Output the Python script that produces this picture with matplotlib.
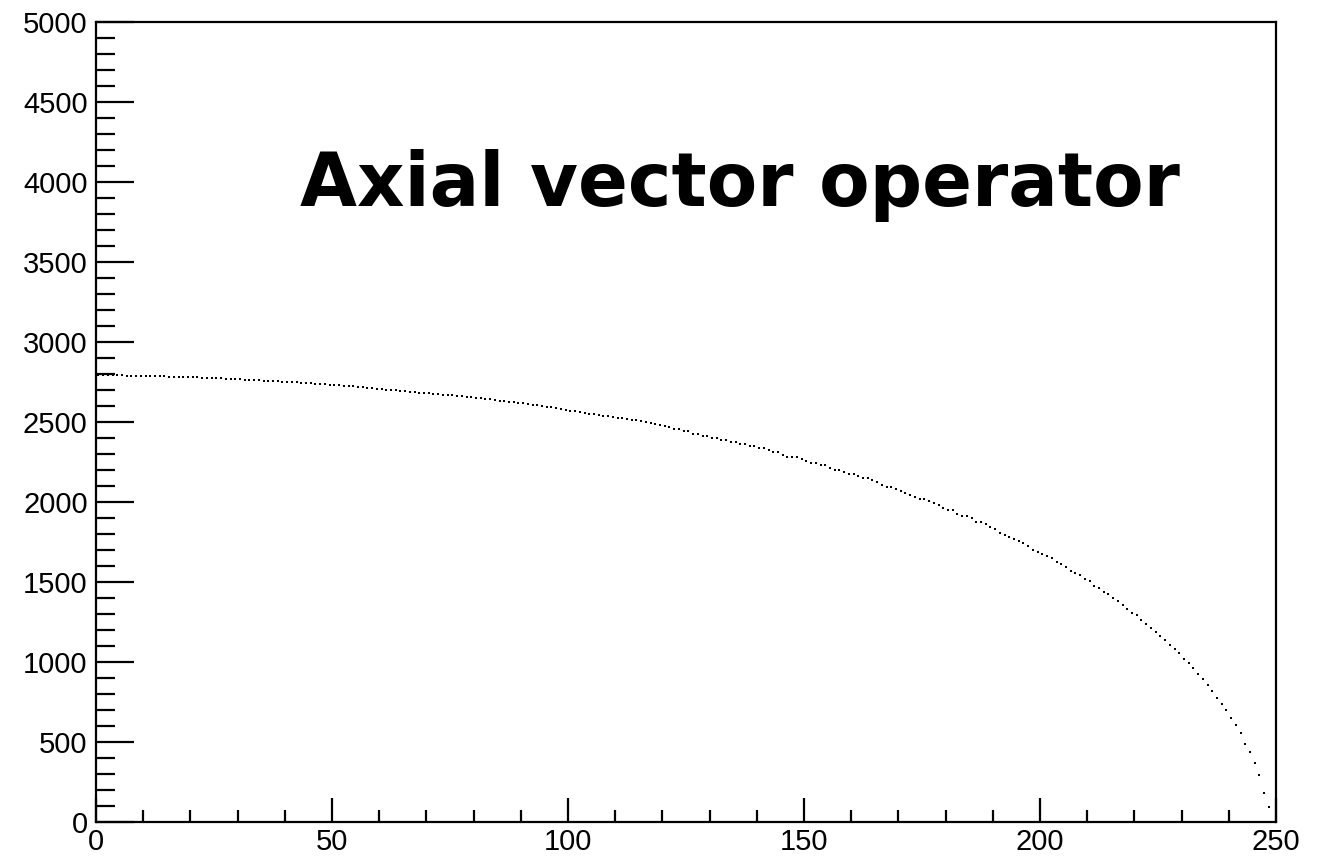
import numpy as np
import matplotlib
matplotlib.use("Agg")
import matplotlib.pyplot as plt
from matplotlib.ticker import MultipleLocator

# histogram: 250 bins from 0 to 250
nbins, xlow, xhigh = 250, 0, 250
counts = [
    2794, 2793, 2792, 2792, 2791, 2791, 2790, 2790, 2789, 2789,
    2788, 2787, 2787, 2786, 2785, 2784, 2783, 2783, 2782, 2781,
    2780, 2779, 2778, 2777, 2776, 2775, 2773, 2771, 2769, 2768,
    2766, 2765, 2763, 2762, 2760, 2759, 2758, 2756, 2755, 2753,
    2752, 2750, 2748, 2746, 2744, 2742, 2740, 2738, 2736, 2734,
    2732, 2730, 2728, 2726, 2723, 2720, 2717, 2715, 2712, 2709,
    2706, 2703, 2700, 2698, 2695, 2692, 2690, 2687, 2684, 2681,
    2679, 2676, 2674, 2671, 2669, 2666, 2664, 2661, 2659, 2656,
    2652, 2649, 2645, 2641, 2638, 2634, 2631, 2627, 2623, 2619,
    2616, 2612, 2608, 2604, 2600, 2596, 2591, 2586, 2581, 2576,
    2571, 2566, 2561, 2556, 2552, 2548, 2544, 2540, 2536, 2532,
    2528, 2524, 2520, 2515, 2511, 2505, 2499, 2493, 2487, 2481,
    2475, 2467, 2454, 2454, 2442, 2442, 2427, 2427, 2414, 2414,
    2400, 2400, 2387, 2387, 2375, 2375, 2362, 2362, 2350, 2350,
    2336, 2336, 2323, 2311, 2311, 2296, 2281, 2281, 2281, 2269,
    2254, 2242, 2242, 2229, 2229, 2214, 2202, 2202, 2189, 2177,
    2177, 2162, 2150, 2150, 2136, 2123, 2108, 2096, 2096, 2083,
    2069, 2056, 2044, 2029, 2017, 2017, 2006, 1992, 1979, 1964,
    1952, 1952, 1927, 1912, 1912, 1898, 1873, 1873, 1860, 1846,
    1831, 1806, 1794, 1781, 1767, 1754, 1742, 1727, 1702, 1687,
    1675, 1662, 1648, 1623, 1610, 1596, 1571, 1556, 1542, 1517,
    1504, 1477, 1464, 1439, 1425, 1398, 1383, 1358, 1331, 1304,
    1292, 1264, 1238, 1212, 1187, 1162, 1135, 1108, 1079, 1054,
    1017, 992, 962, 925, 896, 856, 819, 777, 737, 700,
    648, 606, 554, 487, 435, 367, 292, 183, 92, 0,
]
title = "Axial vector operator"

edges = np.linspace(xlow, xhigh, nbins + 1)
centers = 0.5 * (edges[:-1] + edges[1:])

fig = plt.figure(figsize=(13.17, 8.58), dpi=100)
ax = fig.add_axes([96/1317, 36/858, 1180/1317, 800/858])

ax.plot(centers, counts, ls='none', marker='s', ms=2.0, mew=0, color='black', zorder=1)

ax.set_xlim(xlow, xhigh)
ax.set_ylim(0, 5000)
ax.xaxis.set_major_locator(MultipleLocator(50))
ax.xaxis.set_minor_locator(MultipleLocator(10))
ax.yaxis.set_major_locator(MultipleLocator(500))
ax.yaxis.set_minor_locator(MultipleLocator(100))

for s in ax.spines.values():
    s.set_linewidth(1.6)
ax.tick_params(which='both', direction='in', top=False, right=False, width=1.6,
               labelsize=21, labelfontfamily='Liberation Sans')
ax.tick_params(axis='y', which='major', length=27, pad=6)
ax.tick_params(axis='y', which='minor', length=14)
ax.tick_params(axis='x', which='major', length=17, pad=4)
ax.tick_params(axis='x', which='minor', length=9)

fig.text(300/1317, 1 - 206/858, title, fontsize=53, fontweight='bold',
         family='DejaVu Sans', ha='left', va='baseline')

fig.savefig("out.png", dpi=100)
